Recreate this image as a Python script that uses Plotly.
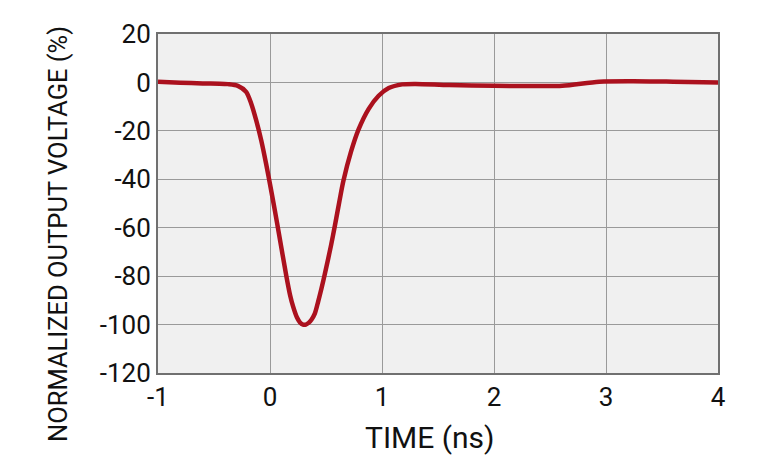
import plotly.graph_objects as go

time_ns = [-1.0, -0.8, -0.6, -0.45, -0.376, -0.287, -0.213, -0.168, -0.123, -0.078, -0.033, 0.006, 0.042,
           0.08, 0.146, 0.18, 0.206, 0.24, 0.266, 0.295, 0.32, 0.345, 0.37, 0.40, 0.43, 0.46, 0.49, 0.544, 0.58,
           0.62, 0.655, 0.724, 0.79, 0.88, 0.97, 1.06, 1.18, 1.3, 1.6, 2.0, 2.34, 2.61, 2.94, 3.24, 3.6, 4.0]
voltage_pct = [0.3, -0.1, -0.4, -0.5, -0.7, -1.4, -3.9, -8.7, -15.7, -24, -34, -43.5, -52.5,
               -62.5, -80, -88, -92.5, -97, -99, -100, -100, -99.3, -98, -95.5, -90.5, -85, -79, -67.5, -59,
               -49, -40.7, -28.5, -19.5, -11, -5.5, -2.3, -0.8, -0.6, -1.1, -1.4, -1.5, -1.4, 0.3, 0.5, 0.3, 0.0]

x_ticks = [-1, 0, 1, 2, 3, 4]
x_tick_labels = ["-1", "0", "1", "2", "3", "4"]
y_ticks = [20, 0, -20, -40, -60, -80, -100, -120]
y_tick_labels = ["20", "0", "-20", "-40", "-60", "-80", "-100", "-120"]
x_title = "TIME (ns)"
y_title = "NORMALIZED OUTPUT VOLTAGE (%)"

fig = go.Figure()
fig.add_trace(go.Scatter(
    x=time_ns, y=voltage_pct, mode="lines",
    line=dict(color="#ab111e", width=4.5, shape="spline", smoothing=0.8),
    hoverinfo="skip", showlegend=False,
))

W, H = 760, 453
font_family = "Roboto"
fig.update_layout(
    width=W, height=H,
    margin=dict(l=150, r=50, t=26, b=88),
    paper_bgcolor="white", plot_bgcolor="#f0f0f0",
    font=dict(family=font_family, color="#111111"),
    xaxis=dict(
        range=[-1, 4], tickvals=x_ticks, ticktext=x_tick_labels, ticks="", showline=True, mirror=True,
        linecolor="#707070", linewidth=2, gridcolor="#9a9a9a", gridwidth=1,
        tickfont=dict(size=26), zeroline=False,
    ),
    yaxis=dict(
        range=[-120, 20], tickvals=y_ticks, ticktext=y_tick_labels, ticks="", showline=True, mirror=True,
        linecolor="#707070", linewidth=2, gridcolor="#9a9a9a", gridwidth=1,
        tickfont=dict(size=26), zeroline=False,
    ),
    annotations=[
        dict(text=x_title, xref="paper", yref="paper",
             x=(430 - 8 - 150) / (W - 200), y=-(437 - 8 - (H - 88)) / (H - 114),
             xanchor="center", yanchor="middle", showarrow=False,
             font=dict(size=30, family=font_family, color="#111111")),
        dict(text=y_title, xref="paper", yref="paper", textangle=-90,
             x=(58 - 8 - 150) / (W - 200), y=1 - (234 - 8 - 26) / (H - 114),
             xanchor="center", yanchor="middle", showarrow=False,
             font=dict(size=25.5, family=font_family, color="#111111")),
    ],
)

fig.write_html("out.html")
